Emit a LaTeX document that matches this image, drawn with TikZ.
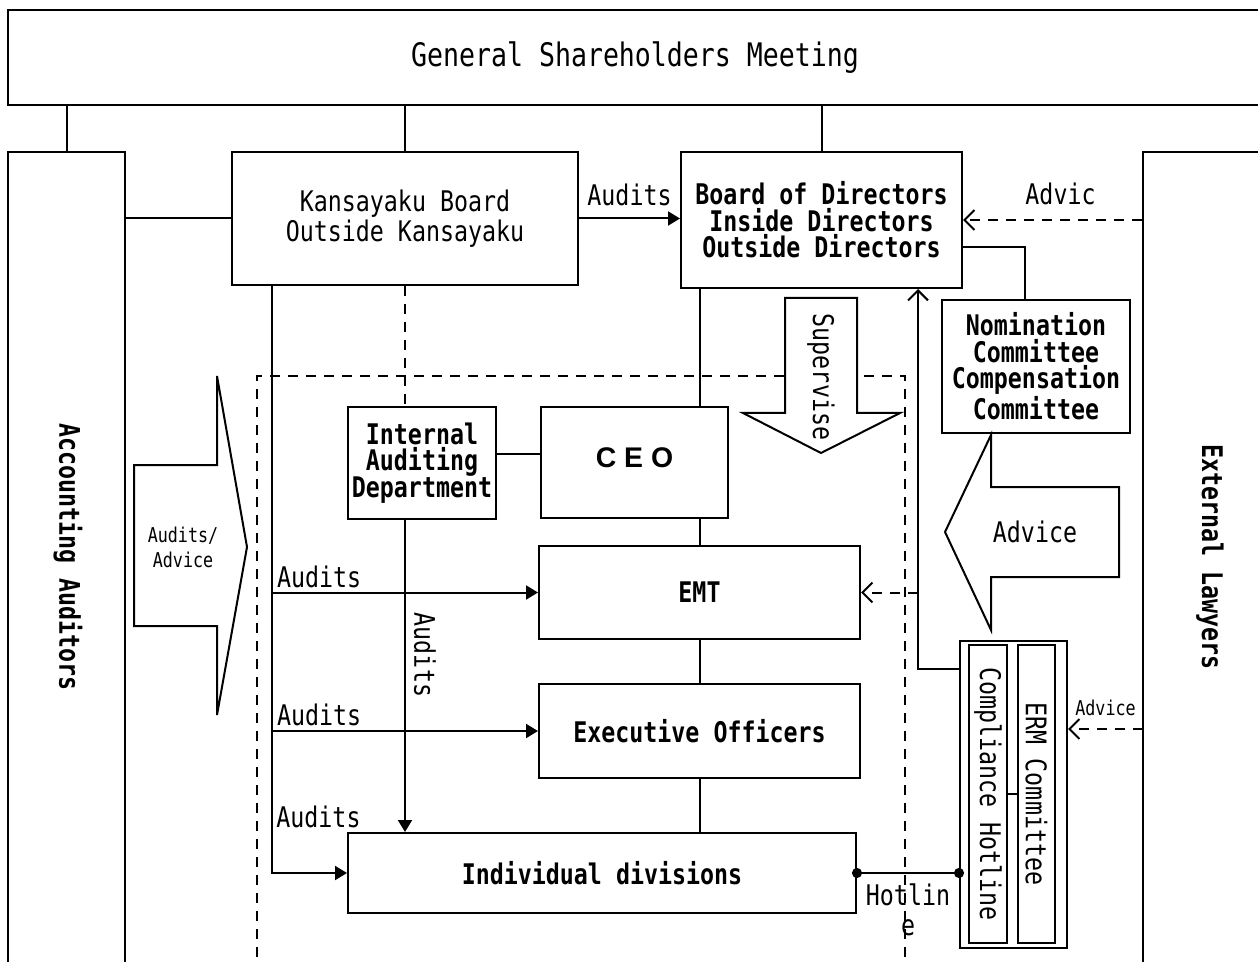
\documentclass[tikz,border=0pt]{standalone}
\usepackage{fontspec}
\setmainfont{DejaVu Sans Mono}[FakeStretch=0.82]
\newfontfamily\ceofont{Liberation Sans}
\usepackage{tikz}
\usetikzlibrary{positioning}
\usetikzlibrary{arrows.meta}
\newcommand\mainsize{\fontsize{14.2pt}{13.3pt}\selectfont}
\newcommand\smallsize{\fontsize{10.2pt}{12.5pt}\selectfont}
\newcommand\bigsize{\fontsize{16.2pt}{18pt}\selectfont}

\begin{document}
\begin{tikzpicture}[x=0.5pt,y=-0.5pt]
 \tikzset{box/.style={
 		draw, line width=1pt, fill=white,
 		align=center, inner sep=0pt,
 		font=\mainsize\bfseries
 	},
 	wh/.style 2 args={minimum width=#1*0.5pt, minimum height=#2*0.5pt},
 	link/.style={line width=1pt},
 	dash line/.style={link, dash pattern=on 5pt off 4pt},
 	solid tip/.style={-{Triangle[length=6pt,width=7pt]}},
 	open tip/.style={-{Straight Barb[length=5pt,width=10pt]}},
 	lbl/.style={font=\mainsize\mdseries, inner sep=2pt},
 	big arrow/.style={draw, line width=1pt, fill=white}
 }
 \useasboundingbox (0,0) rectangle (1258,962);
 % boxes
 \node[box, font=\bigsize\mdseries, wh={1254}{95}] (gsm) at (635,57.5) {General Shareholders Meeting};
 \node[box, font=\mainsize\mdseries, wh={346}{133}] (kan) at (405,218.5) {Kansayaku Board\\Outside Kansayaku};
 \node[box, wh={281}{136}] (bod) at (821.5,220) {Board of Directors\\Inside Directors\\Outside Directors};
 \node[box, wh={188}{133}] (nom) at (1036,366.5) {Nomination\\Committee\\Compensation\\Committee};
 \node[box, wh={117}{823}] (acc) at (66.5,563.5) {};
 \node[box, wh={127}{823}] (ext) at (1206.5,563.5) {};
 \node[rotate=-90, font=\mainsize\bfseries] (accT) at (68,557) {Accounting Auditors};
 \node[rotate=-90, font=\mainsize\bfseries] (extT) at (1210,557) {External Lawyers};
 \node[box, wh={148}{112}] (iad) at (422,463) {Internal\\Auditing\\Department};
 \node[box, font=\ceofont\mainsize\bfseries, wh={187}{111}] (ceo) at (634.5,462.5) {\raisebox{4.5pt}{C E O}};
 \node[box, wh={321}{93}] (emt) at (699.5,592.5) {EMT};
 \node[box, wh={321}{94}] (exo) at (699.5,731) {Executive Officers};
 \node[box, wh={508}{80}] (ind) at (602,873) {Individual divisions};
 \node[box, wh={107}{307}] (cmp) at (1013.5,794.5) {};
 \node[box, font=\mainsize\mdseries, rotate=-90, wh={298}{38}] (hot) at (988,794) {Compliance Hotline};
 \node[box, font=\mainsize\mdseries, rotate=-90, wh={298}{37}] (erm) at (1036.5,794) {ERM Committee};

 \draw[dash line] (257,975) -- (257,376) -- (905,376) -- (905,975);

 % block arrows
 \draw[big arrow] (785,298) -- (857,298) -- (857,413) -- (900,413) -- (821,453) -- (743,413) -- (785,413) -- cycle;
 \node[rotate=-90, font=\mainsize] (sup) at (821,377) {Supervise};
 \draw[big arrow] (134,465) -- (217,465) -- (217,376) -- (247,547) -- (217,715) -- (217,626) -- (134,626) -- cycle;
 \node[font=\smallsize, align=center] (audAdv) at (183,547) {Audits/\\Advice};
 \draw[big arrow] (1119,487) -- (991,487) -- (991,435) -- (945,532) -- (991,630) -- (991,577) -- (1119,577) -- cycle;
 \node[font=\mainsize] (advBig) at (1035,532) {Advice};

 % connectors
 \draw[link] (acc.north) -- (acc.north |- gsm.south);
 \draw[link] (kan.north) -- (kan.north |- gsm.south);
 \draw[link] (bod.north) -- (bod.north |- gsm.south);
 \draw[link] (kan.west) -- (kan.west -| acc.east);
 \draw[link, solid tip] (kan.east) -- (kan.east -| bod.west) node[lbl, midway, above=4pt] (audA) {Audits};
 \draw[link, dash line, open tip] (bod.east -| ext.west) -- (bod.east) node[lbl, midway, above=5pt, xshift=4pt] (advA) {Advic};
 \draw[link] ([yshift=-13.5pt]bod.east) -| ([xshift=-5.5pt]nom.north);
 \draw[link] (bod.south -| emt.north) -- (ceo.north -| emt.north);
 \draw[link] (ceo.south -| emt.north) -- (emt.north);
 \draw[link] (emt.south) -- (exo.north);
 \draw[link] (exo.south) -- (exo.south |- ind.north);
 \draw[link, dash line] (kan.south) -- (kan.south |- iad.north);
 \draw[link] ([yshift=4.5pt]iad.east) -- ([yshift=4.5pt]iad.east -| ceo.west);
 \draw[link, solid tip] (kan.south |- iad.south) -- (kan.south |- ind.north);
 \node[rotate=-90, font=\mainsize] (audV) at (425,655) {Audits};

 \coordinate (lft) at ([xshift=-66.5pt]kan.south);
 \draw[link, solid tip] (lft) |- (ind.west);
 \draw[link, solid tip] (lft |- emt.west) -- (emt.west) node[lbl, pos=0, above right] (audE) {Audits};
 \draw[link, solid tip] (lft |- exo.west) -- (exo.west) node[lbl, pos=0, above right] (audX) {Audits};
 \node[lbl, above right] (audI) at (lft |- ind.north) {Audits};

 \coordinate (jn) at (918,669);
 \draw[link, open tip] (cmp.west |- jn) -- (jn) -- (jn |- bod.south);
 \draw[link, dash line, open tip] (jn |- emt.east) -- (emt.east);
 \draw[link, {Circle[length=5pt]}-{Circle[length=5pt]}, shorten <=-2.5pt, shorten >=-2.5pt] (ind.east) -- (ind.east -| cmp.west) node[lbl, midway, below=3pt, align=center, font=\fontsize{14.2pt}{15pt}\selectfont] (hotL) {Hotlin\\e};
 \draw[link] (hot.north) -- (erm.south);
 \coordinate (lawA) at (1143,729);
 \draw[link, dash line, open tip] (lawA) -- (lawA -| cmp.east) node[lbl, font=\smallsize, midway, above=4pt] (advL) {Advice};
\end{tikzpicture}
\end{document}
